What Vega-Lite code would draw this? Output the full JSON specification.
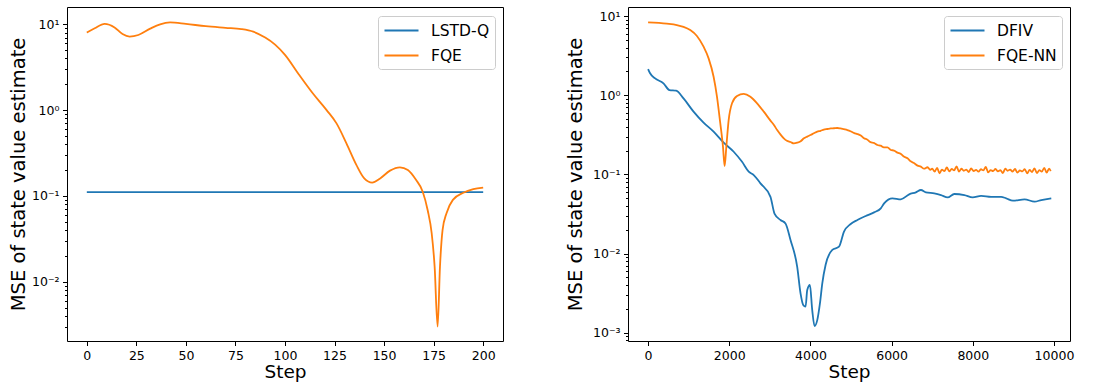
{
  "$schema": "https://vega.github.io/schema/vega-lite/v6.json",
  "autosize": {"type": "none"},
  "padding": {"left": 67, "top": 7, "right": 1037, "bottom": 380},
  "background": "white",
  "bounds": "flush",
  "spacing": 125,
  "config": {
    "font": "DejaVu Sans",
    "view": {"stroke": "black", "strokeWidth": 1},
    "axis": {
      "domain": false, "grid": false, "tickColor": "black", "labelColor": "black",
      "titleColor": "black", "labelFontSize": 12.5, "titleFontSize": 18.5,
      "titleFontWeight": "normal", "tickSize": 4.5, "labelPadding": 3.5,
      "labelFont": "DejaVu Sans", "titleFont": "DejaVu Sans", "tickWidth": 1
    },
    "legend": {
      "orient": "top-right", "offset": 8.5, "title": null,
      "strokeColor": "#cccccc", "fillColor": "white", "cornerRadius": 3,
      "padding": 5, "symbolType": "M-2,0H2", "symbolSize": 289,
      "symbolStrokeWidth": 1.8, "symbolOffset": 9, "labelOffset": 20,
      "labelFontSize": 15.5, "labelFont": "DejaVu Sans", "labelColor": "black",
      "rowPadding": 7
    }
  },
  "datasets": {
    "left": [
      {"step": 0, "mse": 0.111, "series": "LSTD-Q"},
      {"step": 200, "mse": 0.111, "series": "LSTD-Q"},
      {"step": 0, "mse": 8.0, "series": "FQE"},
      {"step": 4, "mse": 9.0, "series": "FQE"},
      {"step": 9, "mse": 10.1, "series": "FQE"},
      {"step": 14, "mse": 9.2, "series": "FQE"},
      {"step": 18, "mse": 7.7, "series": "FQE"},
      {"step": 21.6, "mse": 7.2, "series": "FQE"},
      {"step": 26, "mse": 7.5, "series": "FQE"},
      {"step": 32, "mse": 8.9, "series": "FQE"},
      {"step": 37, "mse": 10.0, "series": "FQE"},
      {"step": 42, "mse": 10.5, "series": "FQE"},
      {"step": 50, "mse": 10.1, "series": "FQE"},
      {"step": 60, "mse": 9.5, "series": "FQE"},
      {"step": 70, "mse": 9.1, "series": "FQE"},
      {"step": 78, "mse": 8.8, "series": "FQE"},
      {"step": 84, "mse": 8.2, "series": "FQE"},
      {"step": 90, "mse": 7.0, "series": "FQE"},
      {"step": 95, "mse": 5.8, "series": "FQE"},
      {"step": 100, "mse": 4.4, "series": "FQE"},
      {"step": 107, "mse": 2.6, "series": "FQE"},
      {"step": 114, "mse": 1.57, "series": "FQE"},
      {"step": 121, "mse": 1.0, "series": "FQE"},
      {"step": 126, "mse": 0.7, "series": "FQE"},
      {"step": 131, "mse": 0.41, "series": "FQE"},
      {"step": 136, "mse": 0.23, "series": "FQE"},
      {"step": 140, "mse": 0.16, "series": "FQE"},
      {"step": 144, "mse": 0.143, "series": "FQE"},
      {"step": 148, "mse": 0.16, "series": "FQE"},
      {"step": 153, "mse": 0.197, "series": "FQE"},
      {"step": 158, "mse": 0.215, "series": "FQE"},
      {"step": 162, "mse": 0.2, "series": "FQE"},
      {"step": 166, "mse": 0.155, "series": "FQE"},
      {"step": 169.5, "mse": 0.112, "series": "FQE"},
      {"step": 172, "mse": 0.068, "series": "FQE"},
      {"step": 174, "mse": 0.037, "series": "FQE"},
      {"step": 175.5, "mse": 0.015, "series": "FQE"},
      {"step": 177, "mse": 0.003, "series": "FQE"},
      {"step": 178.2, "mse": 0.015, "series": "FQE"},
      {"step": 179.5, "mse": 0.04, "series": "FQE"},
      {"step": 181.5, "mse": 0.063, "series": "FQE"},
      {"step": 184.7, "mse": 0.09, "series": "FQE"},
      {"step": 190, "mse": 0.109, "series": "FQE"},
      {"step": 195, "mse": 0.12, "series": "FQE"},
      {"step": 200, "mse": 0.125, "series": "FQE"}
    ],
    "right": [
      {"step": 0, "mse": 2.14, "series": "DFIV"},
      {"step": 49, "mse": 1.89, "series": "DFIV"},
      {"step": 173, "mse": 1.63, "series": "DFIV"},
      {"step": 379, "mse": 1.41, "series": "DFIV"},
      {"step": 527, "mse": 1.16, "series": "DFIV"},
      {"step": 692, "mse": 1.14, "series": "DFIV"},
      {"step": 873, "mse": 0.91, "series": "DFIV"},
      {"step": 1120, "mse": 0.62, "series": "DFIV"},
      {"step": 1367, "mse": 0.45, "series": "DFIV"},
      {"step": 1614, "mse": 0.346, "series": "DFIV"},
      {"step": 1862, "mse": 0.251, "series": "DFIV"},
      {"step": 2109, "mse": 0.193, "series": "DFIV"},
      {"step": 2315, "mse": 0.144, "series": "DFIV"},
      {"step": 2479, "mse": 0.108, "series": "DFIV"},
      {"step": 2603, "mse": 0.098, "series": "DFIV"},
      {"step": 2768, "mse": 0.077, "series": "DFIV"},
      {"step": 3015, "mse": 0.052, "series": "DFIV"},
      {"step": 3114, "mse": 0.032, "series": "DFIV"},
      {"step": 3262, "mse": 0.0265, "series": "DFIV"},
      {"step": 3385, "mse": 0.024, "series": "DFIV"},
      {"step": 3509, "mse": 0.0148, "series": "DFIV"},
      {"step": 3674, "mse": 0.0068, "series": "DFIV"},
      {"step": 3756, "mse": 0.00314, "series": "DFIV"},
      {"step": 3822, "mse": 0.00224, "series": "DFIV"},
      {"step": 3880, "mse": 0.00213, "series": "DFIV"},
      {"step": 3921, "mse": 0.00346, "series": "DFIV"},
      {"step": 3987, "mse": 0.004, "series": "DFIV"},
      {"step": 4044, "mse": 0.00193, "series": "DFIV"},
      {"step": 4102, "mse": 0.00121, "series": "DFIV"},
      {"step": 4168, "mse": 0.00144, "series": "DFIV"},
      {"step": 4234, "mse": 0.00234, "series": "DFIV"},
      {"step": 4292, "mse": 0.0042, "series": "DFIV"},
      {"step": 4374, "mse": 0.0072, "series": "DFIV"},
      {"step": 4539, "mse": 0.0111, "series": "DFIV"},
      {"step": 4704, "mse": 0.0122, "series": "DFIV"},
      {"step": 4827, "mse": 0.0189, "series": "DFIV"},
      {"step": 4992, "mse": 0.0236, "series": "DFIV"},
      {"step": 5157, "mse": 0.0265, "series": "DFIV"},
      {"step": 5362, "mse": 0.0298, "series": "DFIV"},
      {"step": 5568, "mse": 0.0331, "series": "DFIV"},
      {"step": 5733, "mse": 0.0372, "series": "DFIV"},
      {"step": 5815, "mse": 0.043, "series": "DFIV"},
      {"step": 6021, "mse": 0.0498, "series": "DFIV"},
      {"step": 6227, "mse": 0.0483, "series": "DFIV"},
      {"step": 6433, "mse": 0.0559, "series": "DFIV"},
      {"step": 6598, "mse": 0.0593, "series": "DFIV"},
      {"step": 6722, "mse": 0.0634, "series": "DFIV"},
      {"step": 6845, "mse": 0.0593, "series": "DFIV"},
      {"step": 7051, "mse": 0.0575, "series": "DFIV"},
      {"step": 7216, "mse": 0.0548, "series": "DFIV"},
      {"step": 7381, "mse": 0.0512, "series": "DFIV"},
      {"step": 7545, "mse": 0.0565, "series": "DFIV"},
      {"step": 7792, "mse": 0.0548, "series": "DFIV"},
      {"step": 7998, "mse": 0.0512, "series": "DFIV"},
      {"step": 8204, "mse": 0.0535, "series": "DFIV"},
      {"step": 8451, "mse": 0.052, "series": "DFIV"},
      {"step": 8698, "mse": 0.052, "series": "DFIV"},
      {"step": 8822, "mse": 0.0498, "series": "DFIV"},
      {"step": 8987, "mse": 0.0465, "series": "DFIV"},
      {"step": 9275, "mse": 0.0483, "series": "DFIV"},
      {"step": 9522, "mse": 0.0452, "series": "DFIV"},
      {"step": 9687, "mse": 0.0474, "series": "DFIV"},
      {"step": 9934, "mse": 0.0498, "series": "DFIV"},
      {"step": 0, "mse": 8.3, "series": "FQE-NN"},
      {"step": 461, "mse": 8.0, "series": "FQE-NN"},
      {"step": 708, "mse": 7.7, "series": "FQE-NN"},
      {"step": 873, "mse": 7.3, "series": "FQE-NN"},
      {"step": 1038, "mse": 6.65, "series": "FQE-NN"},
      {"step": 1203, "mse": 5.6, "series": "FQE-NN"},
      {"step": 1367, "mse": 4.1, "series": "FQE-NN"},
      {"step": 1491, "mse": 2.92, "series": "FQE-NN"},
      {"step": 1614, "mse": 1.71, "series": "FQE-NN"},
      {"step": 1697, "mse": 0.96, "series": "FQE-NN"},
      {"step": 1779, "mse": 0.44, "series": "FQE-NN"},
      {"step": 1845, "mse": 0.224, "series": "FQE-NN"},
      {"step": 1886, "mse": 0.127, "series": "FQE-NN"},
      {"step": 1928, "mse": 0.224, "series": "FQE-NN"},
      {"step": 1985, "mse": 0.485, "series": "FQE-NN"},
      {"step": 2068, "mse": 0.79, "series": "FQE-NN"},
      {"step": 2191, "mse": 0.975, "series": "FQE-NN"},
      {"step": 2356, "mse": 1.04, "series": "FQE-NN"},
      {"step": 2521, "mse": 0.957, "series": "FQE-NN"},
      {"step": 2685, "mse": 0.79, "series": "FQE-NN"},
      {"step": 2850, "mse": 0.62, "series": "FQE-NN"},
      {"step": 3015, "mse": 0.477, "series": "FQE-NN"},
      {"step": 3100, "mse": 0.42, "series": "FQE-NN"},
      {"step": 3180, "mse": 0.363, "series": "FQE-NN"},
      {"step": 3260, "mse": 0.32, "series": "FQE-NN"},
      {"step": 3344, "mse": 0.285, "series": "FQE-NN"},
      {"step": 3420, "mse": 0.265, "series": "FQE-NN"},
      {"step": 3509, "mse": 0.256, "series": "FQE-NN"},
      {"step": 3590, "mse": 0.246, "series": "FQE-NN"},
      {"step": 3674, "mse": 0.251, "series": "FQE-NN"},
      {"step": 3760, "mse": 0.262, "series": "FQE-NN"},
      {"step": 3839, "mse": 0.285, "series": "FQE-NN"},
      {"step": 3920, "mse": 0.3, "series": "FQE-NN"},
      {"step": 4003, "mse": 0.314, "series": "FQE-NN"},
      {"step": 4085, "mse": 0.33, "series": "FQE-NN"},
      {"step": 4168, "mse": 0.346, "series": "FQE-NN"},
      {"step": 4250, "mse": 0.355, "series": "FQE-NN"},
      {"step": 4330, "mse": 0.368, "series": "FQE-NN"},
      {"step": 4415, "mse": 0.374, "series": "FQE-NN"},
      {"step": 4500, "mse": 0.38, "series": "FQE-NN"},
      {"step": 4580, "mse": 0.382, "series": "FQE-NN"},
      {"step": 4662, "mse": 0.385, "series": "FQE-NN"},
      {"step": 4740, "mse": 0.38, "series": "FQE-NN"},
      {"step": 4820, "mse": 0.372, "series": "FQE-NN"},
      {"step": 4909, "mse": 0.363, "series": "FQE-NN"},
      {"step": 5000, "mse": 0.348, "series": "FQE-NN"},
      {"step": 5080, "mse": 0.332, "series": "FQE-NN"},
      {"step": 5157, "mse": 0.323, "series": "FQE-NN"},
      {"step": 5240, "mse": 0.309, "series": "FQE-NN"},
      {"step": 5320, "mse": 0.286, "series": "FQE-NN"},
      {"step": 5404, "mse": 0.274, "series": "FQE-NN"},
      {"step": 5480, "mse": 0.255, "series": "FQE-NN"},
      {"step": 5560, "mse": 0.25, "series": "FQE-NN"},
      {"step": 5651, "mse": 0.235, "series": "FQE-NN"},
      {"step": 5730, "mse": 0.23, "series": "FQE-NN"},
      {"step": 5810, "mse": 0.219, "series": "FQE-NN"},
      {"step": 5898, "mse": 0.219, "series": "FQE-NN"},
      {"step": 5980, "mse": 0.203, "series": "FQE-NN"},
      {"step": 6060, "mse": 0.2, "series": "FQE-NN"},
      {"step": 6145, "mse": 0.188, "series": "FQE-NN"},
      {"step": 6220, "mse": 0.182, "series": "FQE-NN"},
      {"step": 6300, "mse": 0.168, "series": "FQE-NN"},
      {"step": 6392, "mse": 0.16, "series": "FQE-NN"},
      {"step": 6470, "mse": 0.146, "series": "FQE-NN"},
      {"step": 6550, "mse": 0.139, "series": "FQE-NN"},
      {"step": 6639, "mse": 0.129, "series": "FQE-NN"},
      {"step": 6720, "mse": 0.125, "series": "FQE-NN"},
      {"step": 6800, "mse": 0.118, "series": "FQE-NN"},
      {"step": 6886, "mse": 0.123, "series": "FQE-NN"},
      {"step": 6950, "mse": 0.114, "series": "FQE-NN"},
      {"step": 7000, "mse": 0.118, "series": "FQE-NN"},
      {"step": 7060, "mse": 0.108, "series": "FQE-NN"},
      {"step": 7120, "mse": 0.121, "series": "FQE-NN"},
      {"step": 7180, "mse": 0.103, "series": "FQE-NN"},
      {"step": 7240, "mse": 0.115, "series": "FQE-NN"},
      {"step": 7300, "mse": 0.11, "series": "FQE-NN"},
      {"step": 7360, "mse": 0.122, "series": "FQE-NN"},
      {"step": 7420, "mse": 0.109, "series": "FQE-NN"},
      {"step": 7480, "mse": 0.117, "series": "FQE-NN"},
      {"step": 7540, "mse": 0.112, "series": "FQE-NN"},
      {"step": 7600, "mse": 0.126, "series": "FQE-NN"},
      {"step": 7660, "mse": 0.108, "series": "FQE-NN"},
      {"step": 7720, "mse": 0.118, "series": "FQE-NN"},
      {"step": 7780, "mse": 0.111, "series": "FQE-NN"},
      {"step": 7840, "mse": 0.115, "series": "FQE-NN"},
      {"step": 7900, "mse": 0.107, "series": "FQE-NN"},
      {"step": 7960, "mse": 0.119, "series": "FQE-NN"},
      {"step": 8020, "mse": 0.11, "series": "FQE-NN"},
      {"step": 8080, "mse": 0.114, "series": "FQE-NN"},
      {"step": 8140, "mse": 0.108, "series": "FQE-NN"},
      {"step": 8200, "mse": 0.116, "series": "FQE-NN"},
      {"step": 8260, "mse": 0.112, "series": "FQE-NN"},
      {"step": 8320, "mse": 0.124, "series": "FQE-NN"},
      {"step": 8380, "mse": 0.106, "series": "FQE-NN"},
      {"step": 8440, "mse": 0.113, "series": "FQE-NN"},
      {"step": 8500, "mse": 0.11, "series": "FQE-NN"},
      {"step": 8560, "mse": 0.117, "series": "FQE-NN"},
      {"step": 8620, "mse": 0.109, "series": "FQE-NN"},
      {"step": 8680, "mse": 0.113, "series": "FQE-NN"},
      {"step": 8740, "mse": 0.104, "series": "FQE-NN"},
      {"step": 8800, "mse": 0.118, "series": "FQE-NN"},
      {"step": 8860, "mse": 0.111, "series": "FQE-NN"},
      {"step": 8920, "mse": 0.115, "series": "FQE-NN"},
      {"step": 8980, "mse": 0.108, "series": "FQE-NN"},
      {"step": 9040, "mse": 0.117, "series": "FQE-NN"},
      {"step": 9100, "mse": 0.105, "series": "FQE-NN"},
      {"step": 9160, "mse": 0.112, "series": "FQE-NN"},
      {"step": 9220, "mse": 0.109, "series": "FQE-NN"},
      {"step": 9280, "mse": 0.116, "series": "FQE-NN"},
      {"step": 9340, "mse": 0.103, "series": "FQE-NN"},
      {"step": 9400, "mse": 0.114, "series": "FQE-NN"},
      {"step": 9460, "mse": 0.107, "series": "FQE-NN"},
      {"step": 9520, "mse": 0.119, "series": "FQE-NN"},
      {"step": 9580, "mse": 0.104, "series": "FQE-NN"},
      {"step": 9640, "mse": 0.113, "series": "FQE-NN"},
      {"step": 9700, "mse": 0.108, "series": "FQE-NN"},
      {"step": 9760, "mse": 0.121, "series": "FQE-NN"},
      {"step": 9820, "mse": 0.105, "series": "FQE-NN"},
      {"step": 9880, "mse": 0.118, "series": "FQE-NN"},
      {"step": 9920, "mse": 0.11, "series": "FQE-NN"}
    ]
  },
  "hconcat": [
    {
      "width": 436, "height": 334,
      "data": {"name": "left"},
      "layer": [
        {
          "mark": {"type": "line", "strokeWidth": 1.8, "interpolate": "monotone", "clip": true},
          "encoding": {
            "x": {"field": "step", "type": "quantitative", "scale": {"domain": [-10, 210], "nice": false, "zero": false},
                  "axis": {"values": [0, 25, 50, 75, 100, 125, 150, 175, 200], "title": "Step", "titleY": 21, "titleBaseline": "top"}},
            "y": {"field": "mse", "type": "quantitative", "scale": {"type": "log", "domain": [0.00204, 15.9], "nice": false},
                  "axis": {"values": [0.01, 0.1, 1, 10], "title": "MSE of state value estimate", "titleX": -39, "titleFontSize": 19.5,
                           "labelExpr": "datum.value >= 5 ? '10¹' : datum.value >= 0.5 ? '10⁰' : datum.value >= 0.05 ? '10⁻¹' : '10⁻²'"}},
            "color": {"field": "series", "type": "nominal", "sort": ["LSTD-Q", "FQE"],
                      "scale": {"domain": ["LSTD-Q", "FQE"], "range": ["#1f77b4", "#ff7f0e"]}, "legend": {}}
          }
        },
        {
          "mark": {"type": "line", "opacity": 0},
          "encoding": {
            "x": {"field": "step", "type": "quantitative"},
            "y": {"field": "mse", "type": "quantitative",
                  "axis": {"orient": "left", "title": null, "labels": false, "tickSize": 2.5,
                           "values": [0.003, 0.004, 0.005, 0.006, 0.007, 0.008, 0.009, 0.02, 0.03, 0.04, 0.05, 0.06, 0.07, 0.08, 0.09, 0.2, 0.3, 0.4, 0.5, 0.6, 0.7, 0.8, 0.9, 2, 3, 4, 5, 6, 7, 8, 9]}},
            "detail": {"field": "series"}
          }
        }
      ],
      "resolve": {"axis": {"y": "independent"}}
    },
    {
      "width": 442, "height": 334,
      "data": {"name": "right"},
      "layer": [
        {
          "mark": {"type": "line", "strokeWidth": 1.8, "interpolate": "monotone", "clip": true},
          "encoding": {
            "x": {"field": "step", "type": "quantitative", "scale": {"domain": [-495, 10395], "nice": false, "zero": false},
                  "axis": {"values": [0, 2000, 4000, 6000, 8000, 10000], "format": "d", "title": "Step", "titleY": 21, "titleBaseline": "top"}},
            "y": {"field": "mse", "type": "quantitative", "scale": {"type": "log", "domain": [0.000785, 13], "nice": false},
                  "axis": {"values": [0.001, 0.01, 0.1, 1, 10], "title": "MSE of state value estimate", "titleX": -43, "titleFontSize": 19.5,
                           "labelExpr": "datum.value >= 5 ? '10¹' : datum.value >= 0.5 ? '10⁰' : datum.value >= 0.05 ? '10⁻¹' : datum.value >= 0.005 ? '10⁻²' : '10⁻³'"}},
            "color": {"field": "series", "type": "nominal",
                      "scale": {"domain": ["DFIV", "FQE-NN"], "range": ["#1f77b4", "#ff7f0e"]}, "legend": {}}
          }
        },
        {
          "mark": {"type": "line", "opacity": 0},
          "encoding": {
            "x": {"field": "step", "type": "quantitative"},
            "y": {"field": "mse", "type": "quantitative",
                  "axis": {"orient": "left", "title": null, "labels": false, "tickSize": 2.5,
                           "values": [0.0008, 0.0009, 0.002, 0.003, 0.004, 0.005, 0.006, 0.007, 0.008, 0.009, 0.02, 0.03, 0.04, 0.05, 0.06, 0.07, 0.08, 0.09, 0.2, 0.3, 0.4, 0.5, 0.6, 0.7, 0.8, 0.9, 2, 3, 4, 5, 6, 7, 8, 9]}},
            "detail": {"field": "series"}
          }
        }
      ],
      "resolve": {"axis": {"y": "independent"}}
    }
  ],
  "resolve": {"scale": {"color": "independent"}}
}
